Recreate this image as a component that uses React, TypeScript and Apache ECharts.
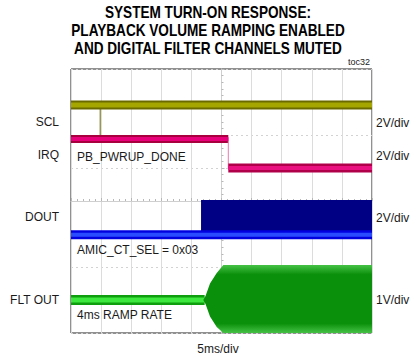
import { useEffect, useRef } from "react";
import * as echarts from "echarts";

// time axis in divisions (5 ms/div), centre = 0; vertical position in divisions (-4..4)
const sclTime = [-5, 5];
const sclLevel = [2.91, 2.91];
const sclGlitchTime = [-4.03, -4.03];
const sclGlitchLevel = [2.91, 1.95];

const irqHighTime = [-5, 0.226];
const irqHighLevel = [1.88, 1.88];
const irqEdgeTime = [0.226, 0.226];
const irqEdgeLevel = [1.92, 1.0];
const irqLowTime = [0.226, 5];
const irqLowLevel = [1.0, 1.0];

const doutLowTime = [-5, 5];
const doutLowLevel = [-1.02, -1.02];
const doutBurstTime = [-0.68, 5];
const doutBurstLow = [-1.02, -1.02];
const doutBurstHigh = [0.03, 0.03];

const fltOffset = -3.0;
const fltIdleTime = [-5, -0.56];
const fltEnvTime = [-0.605, -0.531, -0.382, -0.159, 0.06, 5];
const fltEnvAmp = [0.0, 0.12, 0.5, 0.82, 1.06, 1.06];

const leftLabels = ["SCL", "IRQ", "DOUT", "FLT OUT"];
const rightLabels = ["2V/div", "2V/div", "2V/div", "1V/div"];
const noteLabels = ["PB_PWRUP_DONE", "AMIC_CT_SEL = 0x03", "4ms RAMP RATE"];
const titleLines = [
  "SYSTEM TURN-ON RESPONSE:",
  "PLAYBACK VOLUME RAMPING ENABLED",
  "AND DIGITAL FILTER CHANNELS MUTED",
];
const timeScale = "5ms/div";
const figId = "toc32";

const Y_MIN = -4;
const Y_MAX = 4;

const zip = (a: number[], b: number[]) => a.map((v, i) => [v, b[i]]);

const FONT = "'Liberation Sans', Arial, sans-serif";

function band(id: string, data: number[][], outer: string, inner: string, w1: number, w2: number) {
  return [
    { type: "line", id: id + "o", data, symbol: "none", lineStyle: { color: outer, width: w1 }, z: 3 },
    { type: "line", id: id + "i", data, symbol: "none", lineStyle: { color: inner, width: w2 }, z: 4 },
  ];
}

function envelopeSeries(
  time: number[],
  upperOf: (i: number) => number,
  lowerOf: (i: number) => number,
  fill: any,
  z: number
) {
  return {
    type: "custom",
    clip: true,
    data: [[time[0], 0]],
    z,
    renderItem: (_p: any, api: any) => {
      const clamp = (v: number) => Math.min(Y_MAX, Math.max(Y_MIN, v));
      const up = time.map((t, i) => api.coord([t, clamp(upperOf(i))]));
      const lo = time.map((t, i) => api.coord([t, clamp(lowerOf(i))])).reverse();
      return { type: "polygon", shape: { points: [...up, ...lo] }, style: { fill } };
    },
  };
}

export default function App() {
  const ref = useRef<HTMLDivElement>(null);
  useEffect(() => {
    if (!ref.current) return;
    const chart = echarts.init(ref.current, undefined, { renderer: "svg" });
    const leftY = [122, 155, 217, 300];
    const rightY = [123, 156, 218, 300];
    const noteY = [157, 250, 315];

    const txt = (text: string, x: number, y: number, align: string, size = 12) => ({
      type: "text",
      x,
      y,
      style: {
        text,
        x: 0,
        y: 0,
        fill: "#1a1a1a",
        font: `normal ${size}px ${FONT}`,
        align,
        verticalAlign: "middle",
        textAlign: align,
        textVerticalAlign: "middle",
      },
      z: 10,
    });

    const greenFill = new echarts.graphic.LinearGradient(0, 0, 0, 1, [
      { offset: 0, color: "#45c245" },
      { offset: 0.14, color: "#0b900b" },
      { offset: 0.86, color: "#0b900b" },
      { offset: 1, color: "#45c245" },
    ]);

    chart.setOption({
      animation: false,
      backgroundColor: "#ffffff",
      grid: {
        left: 71,
        right: 40,
        top: 69,
        bottom: 25,
        show: true,
        borderColor: "#222",
        borderWidth: 1,
        backgroundColor: "transparent",
      },
      xAxis: {
        type: "value",
        min: -5,
        max: 5,
        interval: 1,
        axisLabel: { show: false },
        axisLine: { show: true, onZero: true, lineStyle: { color: "#cfcfcf", width: 1 } },
        axisTick: { show: true, inside: true, length: 3, lineStyle: { color: "#b8b8b8" } },
        minorTick: { show: true, splitNumber: 5, length: 2, lineStyle: { color: "#b8b8b8" } },
        splitLine: { show: true, lineStyle: { color: "#dcdcdc", width: 1 } },
      },
      yAxis: {
        type: "value",
        min: Y_MIN,
        max: Y_MAX,
        interval: 1,
        axisLabel: { show: false },
        axisLine: { show: true, onZero: true, lineStyle: { color: "#cfcfcf", width: 1 } },
        axisTick: { show: true, inside: true, length: 3, lineStyle: { color: "#b8b8b8" } },
        minorTick: { show: true, splitNumber: 5, length: 2, lineStyle: { color: "#b8b8b8" } },
        splitLine: { show: true, lineStyle: { color: "#d2d2d2", width: 1, type: [2, 3] } },
      },
      series: [
        ...band("scl", zip(sclTime, sclLevel), "#6a6a00", "#a6a600", 9, 5),
        {
          type: "line",
          data: zip(sclGlitchTime, sclGlitchLevel),
          symbol: "none",
          lineStyle: { color: "#6a6a00", width: 1 },
          z: 3,
        },
        ...band("irqh", zip(irqHighTime, irqHighLevel), "#a8003f", "#e8007a", 8, 4),
        {
          type: "line",
          data: zip(irqEdgeTime, irqEdgeLevel),
          symbol: "none",
          lineStyle: { color: "#e87ab0", width: 1 },
          z: 3,
        },
        ...band("irql", zip(irqLowTime, irqLowLevel), "#b0004a", "#ea1080", 9, 4),
        envelopeSeries(doutBurstTime, (i) => doutBurstHigh[i], (i) => doutBurstLow[i], "#000084", 2),
        ...band("dout", zip(doutLowTime, doutLowLevel), "#0000e0", "#2a4cff", 9, 4),
        ...band("flt", zip(fltIdleTime, fltIdleTime.map(() => fltOffset)), "#0e9e0e", "#3ee83e", 10, 5),
        envelopeSeries(
          fltEnvTime,
          (i) => fltOffset + fltEnvAmp[i],
          (i) => fltOffset - fltEnvAmp[i],
          greenFill,
          5
        ),
      ],
      graphic: [
        {
          type: "text",
          x: 208,
          y: 4,
          scaleX: 0.85,
          style: {
            text: titleLines.join("\n"),
            x: 0,
            y: 0,
            fill: "#000",
            font: `bold 16px ${FONT}`,
            lineHeight: 18,
            align: "center",
            textAlign: "center",
            verticalAlign: "top",
            textVerticalAlign: "top",
          },
          z: 10,
        },
        txt(figId, 370, 62, "right", 9),
        ...leftLabels.map((t, i) => txt(t, 59, leftY[i], "right")),
        ...rightLabels.map((t, i) => txt(t, 376, rightY[i], "left")),
        ...noteLabels.map((t, i) => txt(t, 77, noteY[i], "left")),
        txt(timeScale, 218, 349, "center"),
      ],
    });
    return () => chart.dispose();
  }, []);
  return <div ref={ref} style={{ position: "fixed", left: 0, top: 0, width: 412, height: 358 }} />;
}
